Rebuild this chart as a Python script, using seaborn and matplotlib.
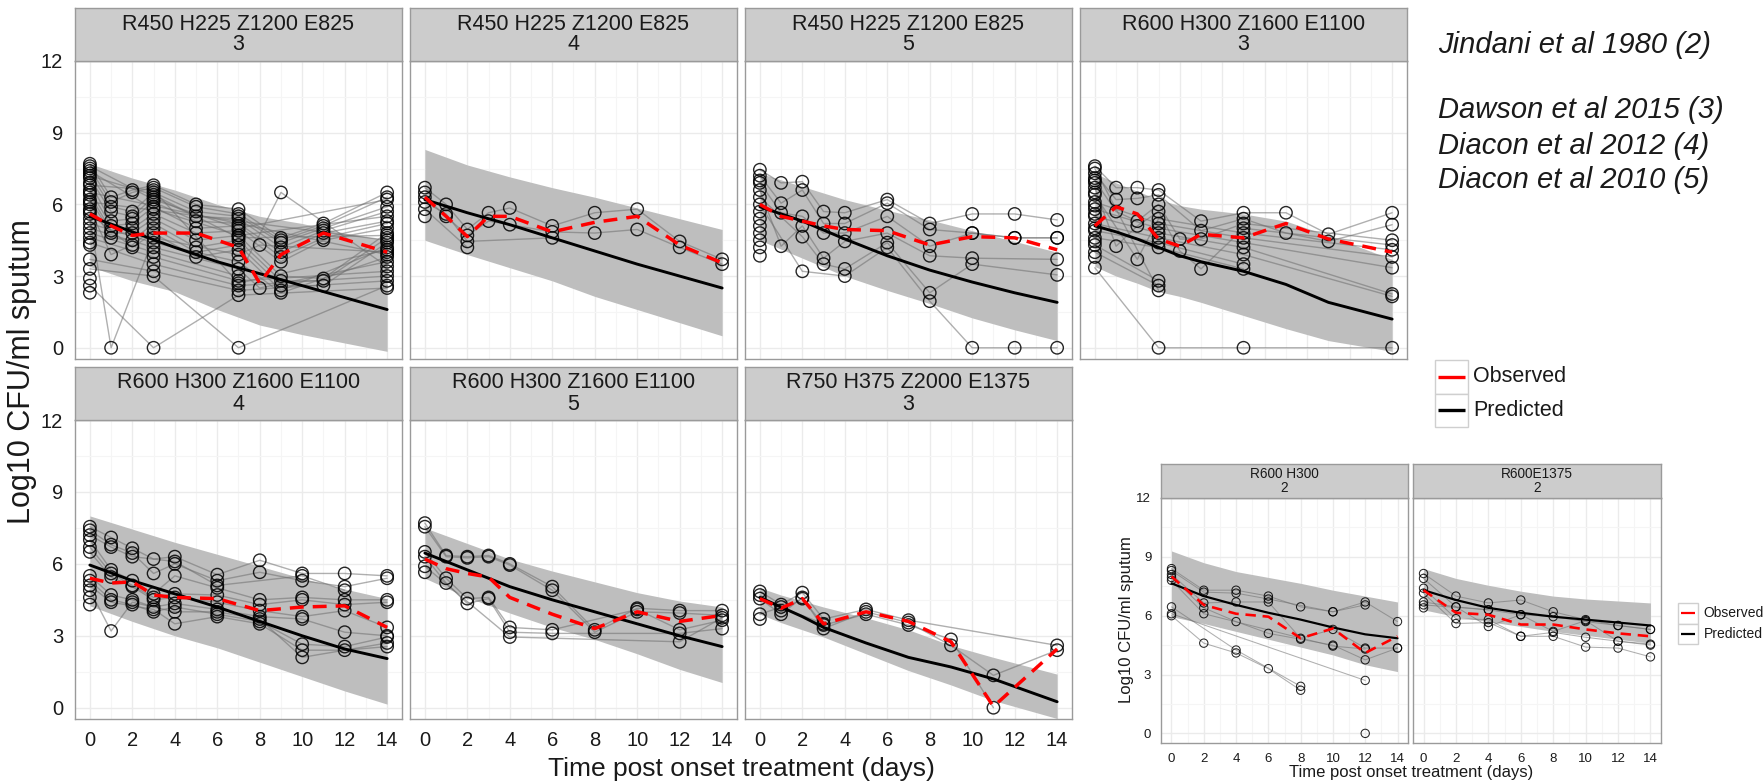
import matplotlib
matplotlib.use("Agg")
import matplotlib.pyplot as plt
import pandas as pd
import seaborn as sns
from matplotlib.patches import Rectangle

# -----------------------------------------------------
# Data
# -----------------------------------------------------
N = None

# Panel 1: R450 H225 Z1200 E825, study 3
p1_title = "R450 H225 Z1200 E825\n3"
p1_days = [0, 1, 2, 3, 5, 7, 8, 9, 11, 14]
p1_subjects = [
    [7.7, 6.3, 6.6, 6.8, 6.0, 5.8, N, 4.6, 5.2, 6.5],
    [7.5, 6.1, 6.5, 6.7, 5.9, 5.6, N, 4.5, 5.1, 6.3],
    [7.3, 5.9, 5.7, 6.5, 5.7, 5.5, N, 4.4, 5.0, 5.9],
    [7.1, 5.7, 5.5, 6.3, 5.5, 5.4, N, 4.2, 4.9, 5.7],
    [6.9, 5.3, 5.4, 6.1, 5.3, 5.2, N, 4.0, 4.8, 5.3],
    [6.6, 5.1, 5.2, 5.9, 5.0, 5.1, N, 3.8, 4.6, 5.2],
    [6.4, 4.9, 5.0, 5.6, 4.8, 4.9, N, 3.6, 4.5, 5.0],
    [6.2, 4.8, 4.8, 5.4, 4.5, 4.7, N, 3.0, 2.9, 4.8],
    [6.0, 4.6, 4.5, 5.2, 4.2, 4.5, N, 2.8, 2.8, 4.6],
    [5.8, 3.9, 4.3, 5.0, 4.0, 4.3, N, 2.6, 2.6, 4.4],
    [5.6, N, 4.2, 4.8, 3.8, 4.1, N, 2.4, N, 4.2],
    [5.4, 0.0, N, 4.6, N, 3.9, 4.3, N, N, 4.0],
    [5.2, N, N, 4.4, N, 3.6, N, 2.3, N, 3.8],
    [5.0, N, N, 4.2, N, 3.3, 2.5, N, N, 3.6],
    [4.8, N, N, 4.0, N, 3.0, N, 6.5, N, 3.4],
    [4.6, N, N, 3.8, N, 2.8, N, N, N, 3.2],
    [4.4, N, N, 3.5, N, 2.6, N, N, N, 3.0],
    [3.7, N, N, 3.2, N, 2.4, N, N, N, 2.8],
    [3.3, N, N, 3.0, N, 0.0, N, N, N, 2.6],
    [2.6, N, N, 0.0, N, 2.2, N, N, N, 2.5],
    [7.6, N, N, 6.2, N, 5.0, N, N, N, 6.2],
    [7.4, N, N, 5.8, N, 4.7, N, N, N, 5.5],
    [7.2, N, N, 6.4, N, 4.6, N, N, N, 4.7],
    [6.8, N, N, 6.6, N, 2.7, N, N, N, 4.1],
    [6.5, N, N, N, N, N, N, N, N, 3.9],
    [6.1, N, N, N, N, N, N, N, N, 4.5],
    [5.7, N, N, N, N, N, N, N, N, N],
    [4.3, N, N, N, N, N, N, N, N, N],
    [2.9, N, N, N, N, N, N, N, N, N],
    [2.3, N, N, N, N, N, N, N, N, N],
]
p1_pred_days = [0, 2, 4, 6, 8, 10, 12, 14]
p1_pred = [5.5, 4.85, 4.2, 3.6, 3.1, 2.6, 2.1, 1.6]
p1_lo = [3.4, 2.8, 2.35, 1.6, 0.95, 0.55, 0.2, -0.15]
p1_hi = [7.7, 7.1, 6.6, 6.0, 5.5, 5.2, 4.8, 4.5]
p1_obs = [5.6, 5.1, 4.7, 4.8, 4.8, 4.2, 2.7, 3.9, 4.8, 4.0]

# Panel 2: R450 H225 Z1200 E825, study 4
p2_title = "R450 H225 Z1200 E825\n4"
p2_days = [0, 1, 2, 3, 4, 6, 8, 10, 12, 14]
p2_subjects = [
    [6.7, 6.0, 4.95, 5.65, 5.85, 5.1, 5.65, 5.8, 4.45, 3.7],
    [6.3, 5.5, 4.7, 5.3, 5.15, 4.85, 4.8, 4.95, 4.2, 3.5],
    [6.1, 5.6, 4.45, N, N, 4.6, N, N, N, N],
    [5.8, N, 4.2, N, N, N, N, N, N, N],
    [5.5, N, N, N, N, N, N, N, N, N],
    [6.5, N, N, N, N, N, N, N, N, N],
]
p2_pred_days = [0, 2, 4, 6, 8, 10, 12, 14]
p2_pred = [6.2, 5.65, 5.15, 4.6, 4.05, 3.5, 3.0, 2.5]
p2_lo = [4.5, 3.9, 3.35, 2.8, 2.15, 1.6, 1.05, 0.5]
p2_hi = [8.3, 7.65, 7.15, 6.7, 6.3, 5.85, 5.4, 4.95]
p2_obs = [6.3, 5.5, 4.65, 5.5, 5.5, 4.85, 5.25, 5.5, 4.3, 3.55]

# Panel 3: R450 H225 Z1200 E825, study 5
p3_title = "R450 H225 Z1200 E825\n5"
p3_days = [0, 1, 2, 3, 4, 6, 8, 10, 12, 14]
p3_subjects = [
    [7.45, 6.9, 6.95, 5.7, 5.65, 6.2, 5.2, 5.6, 5.6, 5.35],
    [7.2, 6.05, 6.6, 5.2, 5.2, 6.05, 4.95, 4.8, 4.6, 4.6],
    [6.9, 5.65, 5.5, 4.8, 4.8, 5.5, 4.25, 4.8, 4.6, 4.6],
    [6.6, 4.25, 5.1, 3.75, 4.45, 4.8, 3.85, 3.75, N, 3.7],
    [6.3, N, 4.65, 3.5, 3.3, 4.4, 2.3, 3.5, N, 3.05],
    [6.0, N, 3.2, N, 3.0, 4.2, 1.95, 0.0, 0.0, 0.0],
    [5.7, N, N, N, N, N, N, N, N, N],
    [5.4, N, N, N, N, N, N, N, N, N],
    [5.1, N, N, N, N, N, N, N, N, N],
    [4.8, N, N, N, N, N, N, N, N, N],
    [4.5, N, N, N, N, N, N, N, N, N],
    [4.2, N, N, N, N, N, N, N, N, N],
    [3.85, N, N, N, N, N, N, N, N, N],
    [7.0, N, N, N, N, N, N, N, N, N],
]
p3_pred_days = [0, 2, 4, 6, 8, 10, 12, 14]
p3_pred = [5.9, 5.3, 4.55, 3.85, 3.25, 2.75, 2.3, 1.9]
p3_lo = [4.5, 3.75, 3.0, 2.4, 1.85, 1.25, 0.75, 0.3]
p3_hi = [7.3, 6.75, 6.2, 5.75, 5.35, 4.9, 4.45, 4.0]
p3_obs = [6.0, 5.5, 5.3, 5.1, 4.95, 4.9, 4.3, 4.65, 4.6, 4.1]

# Panel 4: R600 H300 Z1600 E1100, study 3
p4_title = "R600 H300 Z1600 E1100\n3"
p4_days = [0, 1, 2, 3, 4, 5, 7, 9, 11, 14]
p4_subjects = [
    [7.6, 6.7, 6.7, 6.6, N, 5.3, 5.65, 5.65, 4.75, 5.65],
    [7.3, 6.2, 6.25, 6.4, N, 4.9, 5.4, 4.8, 4.45, 5.15],
    [7.0, 5.7, 5.3, 6.0, 4.55, 4.55, 5.2, N, N, 4.5],
    [6.7, 4.25, 5.1, 5.7, 4.05, 3.3, 5.0, N, N, 4.3],
    [6.4, N, 3.7, 5.4, N, N, 4.8, N, N, 4.1],
    [6.1, N, N, 5.2, N, N, 4.6, N, N, 3.8],
    [5.8, N, N, 5.0, N, N, 4.4, N, N, 3.35],
    [5.5, N, N, 4.8, N, N, 4.2, N, N, 2.25],
    [5.2, N, N, 4.6, N, N, 3.9, N, N, 2.15],
    [4.9, N, N, 4.4, N, N, 3.5, N, N, N],
    [4.6, N, N, 4.2, N, N, 3.3, N, N, N],
    [4.3, N, N, 2.8, N, N, N, N, N, N],
    [4.0, N, N, 2.6, N, N, N, N, N, N],
    [3.35, N, N, 0.0, N, N, 0.0, N, N, 0.0],
    [7.5, N, N, 2.4, N, N, N, N, N, N],
    [7.1, N, N, N, N, N, N, N, N, N],
    [6.9, N, N, N, N, N, N, N, N, N],
    [6.5, N, N, N, N, N, N, N, N, N],
    [5.95, N, N, N, N, N, N, N, N, N],
    [5.6, N, N, N, N, N, N, N, N, N],
    [5.0, N, N, N, N, N, N, N, N, N],
    [4.45, N, N, N, N, N, N, N, N, N],
    [3.8, N, N, N, N, N, N, N, N, N],
]
p4_pred_days = [0, 1, 2, 3, 4, 5, 7, 9, 11, 14]
p4_pred = [5.1, 4.85, 4.55, 4.2, 3.85, 3.6, 3.2, 2.65, 1.9, 1.2]
p4_lo = [3.4, 3.0, 2.7, 2.35, 2.15, 1.9, 1.35, 0.8, 0.3, -0.15]
p4_hi = [7.3, 6.9, 6.55, 6.2, 5.95, 5.8, 5.6, 5.3, 4.7, 3.7]
p4_obs = [5.1, 5.9, 5.6, 4.55, 4.25, 4.75, 4.6, 5.2, 4.55, 4.0]

# Panel 5: R600 H300 Z1600 E1100, study 4
p5_title = "R600 H300 Z1600 E1100\n4"
p5_days = [0, 1, 2, 3, 4, 6, 8, 10, 12, 14]
p5_subjects = [
    [7.55, 7.1, 6.65, 6.2, 6.3, 5.55, 6.15, 5.6, 5.6, 5.5],
    [7.4, 6.8, 6.45, 5.6, 6.0, 5.3, 5.65, 5.3, 5.05, 5.4],
    [7.2, 6.7, 6.3, N, 6.1, 5.1, N, 5.5, 4.9, N],
    [7.0, 5.75, 5.3, 4.75, 5.5, 5.0, 4.5, 4.6, 4.5, 4.5],
    [6.7, 5.6, 5.1, 4.6, 4.75, 4.7, 4.3, 4.5, 4.3, 4.4],
    [6.5, 5.45, 5.05, 4.5, 4.6, 4.4, 4.05, 3.8, 4.05, 3.35],
    [5.5, 4.7, 4.5, 4.2, 4.35, 4.1, 3.8, 3.7, 3.15, 3.0],
    [5.3, 4.5, 4.3, 4.0, 4.2, 3.9, 3.6, 2.65, 2.55, 2.95],
    [5.1, 4.4, N, 4.1, 3.5, 3.8, 3.5, 2.4, 2.4, 2.55],
    [4.9, 3.2, 4.4, N, 4.0, 4.0, 3.7, 2.1, N, 2.7],
    [4.6, N, N, N, N, N, N, N, N, N],
    [4.3, N, N, N, N, N, N, N, N, N],
]
p5_pred_days = [0, 2, 4, 6, 8, 10, 12, 14]
p5_pred = [5.95, 5.3, 4.75, 4.2, 3.6, 3.0, 2.45, 2.05]
p5_lo = [4.25, 3.6, 3.0, 2.5, 1.9, 1.3, 0.7, 0.15]
p5_hi = [8.0, 7.45, 6.9, 6.4, 5.9, 5.4, 4.95, 4.55]
p5_obs = [5.4, 5.2, 5.25, 4.7, 4.6, 4.55, 4.05, 4.2, 4.25, 3.35]

# Panel 6: R600 H300 Z1600 E1100, study 5
p6_title = "R600 H300 Z1600 E1100\n5"
p6_days = [0, 1, 2, 3, 4, 6, 8, 10, 12, 14]
p6_subjects = [
    [7.7, 6.35, 6.3, 6.35, 6.0, 5.05, 3.25, 4.15, 4.05, 4.05],
    [7.55, 6.3, 6.25, 6.3, 5.95, 4.9, 3.15, 4.0, 3.95, 3.85],
    [6.5, 5.4, 4.55, 4.6, 3.35, 3.25, N, 4.1, 3.25, 3.65],
    [6.3, 5.2, 4.35, 4.55, 3.15, 3.1, N, N, 3.1, 3.3],
    [5.9, N, N, N, 2.95, N, N, N, 2.75, 3.75],
    [5.65, N, N, N, N, N, N, N, N, N],
]
p6_pred_days = [0, 2, 4, 6, 8, 10, 12, 14]
p6_pred = [6.45, 5.75, 5.05, 4.5, 4.0, 3.5, 3.0, 2.55]
p6_lo = [5.4, 4.6, 3.95, 3.35, 2.85, 2.25, 1.6, 1.05]
p6_hi = [7.5, 6.85, 6.2, 5.7, 5.25, 4.8, 4.45, 4.2]
p6_obs = [6.2, 5.8, 5.6, 5.45, 4.6, 3.9, 3.3, 4.0, 3.6, 3.85]

# Panel 7: R750 H375 Z2000 E1375, study 3
p7_title = "R750 H375 Z2000 E1375\n3"
p7_days = [0, 1, 2, 3, 5, 7, 9, 11, 14]
p7_subjects = [
    [4.85, 4.3, 4.8, 3.7, 4.1, 3.65, N, N, 2.6],
    [4.7, 4.05, 4.55, 3.45, 3.9, 3.45, 2.85, 0.0, N],
    [4.55, 3.9, 4.6, 3.3, 4.0, 3.55, 2.6, 1.35, 2.4],
    [3.9, 4.2, N, 3.5, N, N, N, N, N],
    [3.7, N, N, N, N, N, N, N, N],
]
p7_pred_days = [0, 1, 2, 3, 5, 7, 9, 11, 14]
p7_pred = [4.6, 4.2, 3.8, 3.35, 2.7, 2.1, 1.7, 1.2, 0.25]
p7_lo = [3.9, 3.55, 3.25, 2.95, 2.25, 1.55, 0.95, 0.3, -0.45]
p7_hi = [5.0, 4.7, 4.45, 4.2, 3.75, 3.25, 2.6, 2.1, 1.4]
p7_obs = [4.55, 4.15, 4.55, 3.5, 4.0, 3.6, 2.75, 0.05, 2.45]

# Inset panel A: R600 H300, study 2
q1_title = "R600 H300\n2"
q1_days = [0, 2, 4, 6, 8, 10, 12, 14]
q1_subjects = [
    [8.4, 7.3, 7.3, 7.0, 6.45, 6.2, 6.7, 5.7],
    [8.3, 7.2, 7.15, 6.85, N, 6.2, 6.55, N],
    [8.1, 6.65, 6.7, 6.7, 4.85, 5.3, 4.35, 4.35],
    [7.95, 6.4, 5.7, 5.1, 4.8, 4.5, 3.75, 4.35],
    [7.8, 6.1, N, N, N, 4.45, 4.3, N],
    [6.0, 4.6, 4.1, 3.3, 2.2, N, N, N],
    [6.45, N, 4.25, N, 2.4, N, N, N],
    [6.1, N, N, N, N, N, 2.7, N],
    [N, N, N, N, N, N, 0.0, N],
]
q1_pred_days = [0, 2, 4, 6, 8, 10, 12, 14]
q1_pred = [7.65, 7.0, 6.55, 6.15, 5.8, 5.4, 5.05, 4.85]
q1_lo = [5.95, 5.6, 5.2, 4.8, 4.4, 4.0, 3.5, 3.15]
q1_hi = [9.3, 8.7, 8.25, 7.95, 7.65, 7.3, 7.0, 6.7]
q1_obs = [8.0, 6.55, 6.1, 5.95, 4.85, 5.35, 4.1, 4.95]

# Inset panel B: R600E1375, study 2
q2_title = "R600E1375\n2"
q2_days = [0, 2, 4, 6, 8, 10, 12, 14]
q2_subjects = [
    [8.15, 7.0, 6.65, 6.8, 6.2, 5.8, 5.5, 5.3],
    [7.9, 6.45, 6.3, 6.05, 5.95, 5.7, 5.5, 5.3],
    [7.4, 5.85, 5.8, 4.95, 5.15, 4.9, 4.7, 4.5],
    [7.15, 5.6, 5.65, 4.95, 4.95, 4.4, 4.35, 3.9],
    [6.7, 6.45, 5.45, 6.05, 5.2, 5.75, 4.7, 4.55],
    [6.55, N, 6.3, N, N, N, N, N],
    [6.4, N, N, N, N, N, N, N],
]
q2_pred_days = [0, 2, 4, 6, 8, 10, 12, 14]
q2_pred = [7.3, 6.8, 6.4, 6.15, 5.95, 5.8, 5.65, 5.5]
q2_lo = [6.3, 5.95, 5.7, 5.45, 5.2, 5.0, 4.8, 4.6]
q2_hi = [8.4, 7.9, 7.55, 7.25, 7.0, 6.85, 6.75, 6.65]
q2_obs = [7.3, 6.15, 6.05, 5.55, 5.55, 5.3, 5.1, 4.95]

citations = ["Jindani et al 1980 (2)", "Dawson et al 2015 (3)",
             "Diacon et al 2012 (4)", "Diacon et al 2010 (5)"]
legend_labels = ["Observed", "Predicted"]
y_label = "Log10 CFU/ml sputum"
x_label = "Time post onset treatment (days)"

# -----------------------------------------------------
# Figure setup
# -----------------------------------------------------
sns.set_theme(style="white")
plt.rcParams["font.family"] = ["Liberation Sans", "DejaVu Sans"]

W, H = 1765, 782
fig = plt.figure(figsize=(W / 100, H / 100), dpi=100)


def px_rect(x0, y0, x1, y1):
    return [x0 / W, 1 - y1 / H, (x1 - x0) / W, (y1 - y0) / H]


def long_form(days, subjects):
    rows = []
    for sid, vals in enumerate(subjects):
        for d, v in zip(days, vals):
            if v is not None:
                rows.append((sid, d, v))
    return pd.DataFrame(rows, columns=["sid", "day", "cfu"])


def facet(box, strip_h, title, days, subjects, pdays, pmid, plo, phi, obs,
          left, bottom, small=False):
    x0, y0, x1, y1 = box
    ax = fig.add_axes(px_rect(x0, y0 + strip_h, x1, y1))
    st = fig.add_axes(px_rect(x0, y0, x1, y0 + strip_h))
    k = 0.75 if small else 1.0
    ms = 36 if small else 80
    tick_fs = 9.5 if small else 14.5
    strip_fs = 9.8 if small else 15.5

    ax.set_facecolor("white")
    ax.set_axisbelow(True)
    ax.fill_between(pdays, plo, phi, color="#bebebe", lw=0, zorder=1)
    df = long_form(days, subjects)
    sns.lineplot(data=df, x="day", y="cfu", units="sid", estimator=None,
                 color="#6e6e6e", alpha=0.55, lw=1.0 * k, ax=ax,
                 legend=False, zorder=2)
    sns.scatterplot(data=df, x="day", y="cfu", marker="o", s=ms,
                    facecolors="none", edgecolor="black", linewidth=1.0 * k,
                    alpha=0.85, ax=ax, legend=False, zorder=3)
    sns.lineplot(x=pdays, y=pmid, color="black", lw=2.1 * k, ax=ax, zorder=4)
    sns.lineplot(x=days, y=obs, color="red", lw=2.5 * k,
                 linestyle=(0, (4, 2.6)), ax=ax, zorder=5)

    ax.set_xlim(-0.7, 14.7)
    ax.set_ylim(-0.47, 12.0)
    ax.set_xticks(range(0, 15, 2))
    ax.set_xticks(range(1, 15, 2), minor=True)
    ax.set_yticks([0, 3, 6, 9, 12])
    ax.set_yticks([1.5, 4.5, 7.5, 10.5], minor=True)
    ax.grid(True, which="major", color="#ebebeb", lw=1.0)
    ax.grid(True, which="minor", color="#f5f5f5", lw=0.8)
    ax.set_xlabel("")
    ax.set_ylabel("")
    ax.tick_params(which="minor", length=0)
    tl = 4 if small else 5.5
    ax.tick_params(axis="x", which="major", length=tl if bottom else 0,
                   color="#7f7f7f", width=1, labelbottom=bottom,
                   labelsize=tick_fs, labelcolor="#1a1a1a", pad=3)
    ax.tick_params(axis="y", which="major", length=tl if left else 0,
                   color="#7f7f7f", width=1, labelleft=left,
                   labelsize=tick_fs, labelcolor="#1a1a1a", pad=3)
    for s in ax.spines.values():
        s.set_color("#9a9a9a")
        s.set_linewidth(1.0)

    st.set_facecolor("#cccccc")
    st.set_xticks([])
    st.set_yticks([])
    for s in st.spines.values():
        s.set_color("#9a9a9a")
        s.set_linewidth(1.0)
    st.text(0.5, 0.5, title, ha="center", va="center", fontsize=strip_fs,
            linespacing=1.0, color="#1a1a1a", transform=st.transAxes)
    return ax


# -----------------------------------------------------
# Main facet grid (2 rows x 4 columns, 7 panels)
# -----------------------------------------------------
cols = [(75, 402), (410, 737), (745, 1072), (1080, 1407)]
rows = [(8, 359), (367, 719)]
strip_main = 53

panels = [
    (p1_title, p1_days, p1_subjects, p1_pred_days, p1_pred, p1_lo, p1_hi, p1_obs),
    (p2_title, p2_days, p2_subjects, p2_pred_days, p2_pred, p2_lo, p2_hi, p2_obs),
    (p3_title, p3_days, p3_subjects, p3_pred_days, p3_pred, p3_lo, p3_hi, p3_obs),
    (p4_title, p4_days, p4_subjects, p4_pred_days, p4_pred, p4_lo, p4_hi, p4_obs),
    (p5_title, p5_days, p5_subjects, p5_pred_days, p5_pred, p5_lo, p5_hi, p5_obs),
    (p6_title, p6_days, p6_subjects, p6_pred_days, p6_pred, p6_lo, p6_hi, p6_obs),
    (p7_title, p7_days, p7_subjects, p7_pred_days, p7_pred, p7_lo, p7_hi, p7_obs),
]
for i, p in enumerate(panels):
    r, c = divmod(i, 4)
    box = (cols[c][0], rows[r][0], cols[c][1], rows[r][1])
    facet(box, strip_main, *p, left=(c == 0), bottom=(r == 1))

fig.text(22 / W, 1 - 372 / H, y_label, rotation=90, ha="center",
         va="center", fontsize=22, color="#1a1a1a")
fig.text(741 / W, 1 - 769 / H, x_label, ha="center", va="center",
         fontsize=19, color="#1a1a1a")

# -----------------------------------------------------
# Inset (2 panels)
# -----------------------------------------------------
inset = [
    ((1161, 464, 1408, 743), q1_title, q1_days, q1_subjects, q1_pred_days,
     q1_pred, q1_lo, q1_hi, q1_obs, True),
    ((1413, 464, 1661, 743), q2_title, q2_days, q2_subjects, q2_pred_days,
     q2_pred, q2_lo, q2_hi, q2_obs, False),
]
for box, *rest, left in inset:
    ax = facet(box, 34, *rest, left=left, bottom=True, small=True)
    ax.set_xlim(-0.65, 14.65)
    ax.set_ylim(-0.49, 12.0)

fig.text(1127 / W, 1 - 620 / H, y_label, rotation=90, ha="center",
         va="center", fontsize=12, color="#1a1a1a")
fig.text(1411 / W, 1 - 773 / H, x_label, ha="center", va="center",
         fontsize=12, color="#1a1a1a")

# -----------------------------------------------------
# Annotations and legends (pixel overlay)
# -----------------------------------------------------
ov = fig.add_axes([0, 0, 1, 1], zorder=10)
ov.set_xlim(0, W)
ov.set_ylim(H, 0)
ov.axis("off")
ov.patch.set_alpha(0)

for txt, y in zip(citations, [45, 110, 146, 180]):
    ov.text(1438, y, txt, fontsize=21, style="italic", ha="left",
            va="center", color="#1a1a1a")


def draw_legend(x, y, box, fs, lw):
    for j, (lab, col) in enumerate(zip(legend_labels, ["red", "black"])):
        yy = y + j * box
        ov.add_patch(Rectangle((x, yy), box, box, facecolor="white",
                               edgecolor="#cfcfcf", lw=1))
        ov.plot([x + 3, x + box - 3], [yy + box / 2] * 2, color=col, lw=lw,
                solid_capstyle="butt")
        ov.text(x + box + 5, yy + box / 2, lab, fontsize=fs, ha="left",
                va="center", color="#1a1a1a")


draw_legend(1435, 360, 33.5, 15.5, 2.4)
draw_legend(1678, 603, 20.5, 10, 1.6)

fig.savefig("out.png", dpi=100)
